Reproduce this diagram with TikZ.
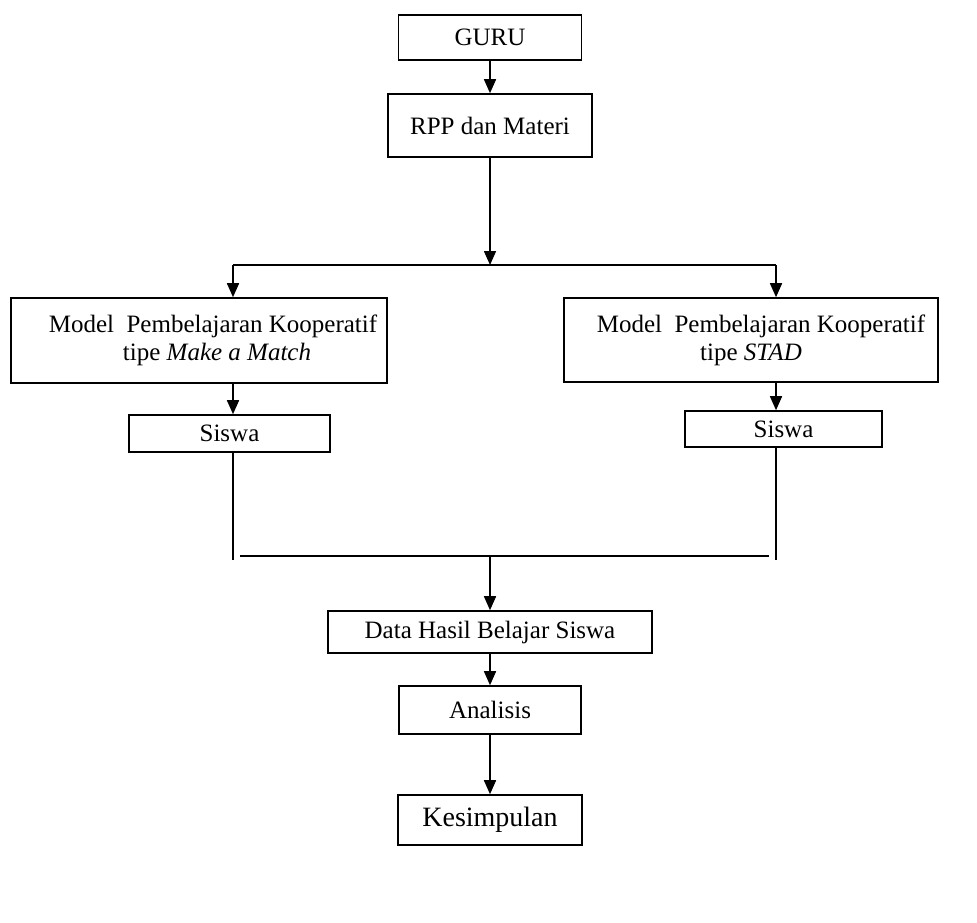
\documentclass[tikz,border=0pt]{standalone}
\usepackage{fontspec}
\setmainfont{Liberation Serif}
\usetikzlibrary{positioning, arrows.meta}

\begin{document}
\begin{tikzpicture}[x=0.5pt, y=-0.5pt, >={Triangle[length=7pt, width=6pt]}, line width=0.8pt,
    box/.style={draw, rectangle, align=center, inner sep=0pt, font=\fontsize{12.5}{14}\selectfont}]
    \useasboundingbox (0, 0) rectangle (977, 922);

    \node (guru) [box, minimum width=91.5pt, minimum height=22.5pt] at (490, 37.5) {GURU};
    \node (rpp) [box, minimum width=102pt, minimum height=31.5pt] at (490, 125.5) {RPP dan Materi};
    \node (mleft) [box, minimum width=188pt, minimum height=42.5pt] at (199, 340.5) {\hspace*{14pt}Model\ \ Pembelajaran Kooperatif\\\hspace*{18pt}tipe \textit{Make a Match}};
    \node (mright) [box, minimum width=187pt, minimum height=42pt] at (751, 340) {\hspace*{10pt}Model\ \ Pembelajaran Kooperatif\\tipe \textit{STAD}};
    \node (sleft) [box, minimum width=100.5pt, minimum height=18.5pt] at (229.5, 433.5) {Siswa};
    \node (sright) [box, minimum width=98.5pt, minimum height=18pt] at (783.5, 429) {Siswa};
    \node (data) [box, minimum width=162pt, minimum height=21pt] at (490, 632) {Data Hasil Belajar Siswa};
    \node (analisis) [box, minimum width=91pt, minimum height=24pt] at (490, 710) {Analisis};
    \node (kesimpulan) [box, minimum width=92pt, minimum height=25pt, font=\fontsize{14}{17}\selectfont] at (490, 820) {Kesimpulan};

    % branch points
    \coordinate (split) at (490, 265);
    \coordinate (jl) at (233, 265);
    \coordinate (jr) at (776, 265);
    \coordinate (bl) at (233, 560);
    \coordinate (br) at (776, 560);
    \coordinate (hl) at (240, 556);
    \coordinate (hr) at (769, 556);
    \coordinate (merge) at (490, 556);

    \draw [->] (guru) -- (rpp);
    \draw [->] (rpp) -- (split);
    \draw (jl) -- (jr);
    \draw [->] (jl) -- (jl |- mleft.north);
    \draw [->] (jr) -- (jr |- mright.north);
    \draw [->] (jl |- mleft.south) -- (jl |- sleft.north);
    \draw [->] (jr |- mright.south) -- (jr |- sright.north);
    \draw (bl |- sleft.south) -- (bl);
    \draw (br |- sright.south) -- (br);
    \draw (hl) -- (hr);
    \draw [->] (merge) -- (data);
    \draw [->] (data) -- (analisis);
    \draw [->] (analisis) -- (kesimpulan);
\end{tikzpicture}
\end{document}
